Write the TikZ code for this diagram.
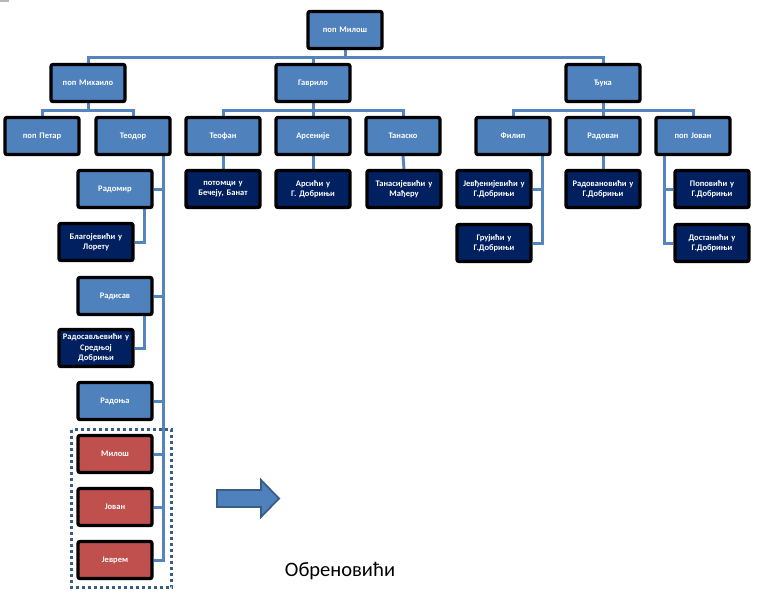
\documentclass[tikz,border=0pt]{standalone}
\usepackage{fontspec}
\setmainfont{Carlito}
\usetikzlibrary{backgrounds}
\definecolor{sablue}{RGB}{79,129,189}
\definecolor{sanavy}{RGB}{0,32,96}
\definecolor{sared}{RGB}{192,80,77}
\definecolor{saline}{RGB}{84,133,192}
\definecolor{sadark}{RGB}{56,93,138}
\tikzset{
  box/.style={rounded corners=2pt, line width=3.3pt, draw=black, minimum width=74pt,
    minimum height=37pt, inner sep=1pt, text=white, align=center, text width=72pt,
    font=\bfseries\fontsize{8.5}{10.5}\selectfont},
  bluebox/.style={box, fill=sablue},
  navybox/.style={box, fill=sanavy},
  redbox/.style={box, fill=sared},
  conn/.style={draw=saline, line width=3pt},
  frame/.style={draw=sadark, line width=3pt, dash pattern=on 3pt off 3pt},
  arrowshape/.style={fill=sablue, draw=sadark, line width=1.8pt, line join=miter},
  caption/.style={font=\fontsize{20.5}{24}\selectfont, text=black, inner sep=0pt}
}
\begin{document}
\begin{tikzpicture}[x=1pt,y=-1pt]
\useasboundingbox (0,0) rectangle (761,600);
\fill[gray!55] (0,0) rectangle (9,1.5);
% level 1
\node[bluebox] (milos) at (345,30) {поп Милош};
% level 2
\node[bluebox] (mihailo) at (88,83) {поп Михаило};
\node[bluebox] (gavrilo) at (313,83) {Гаврило};
\node[bluebox] (djuka) at (603,83) {Ђука};
% level 3
\node[bluebox] (petar) at (42,136) {поп Петар};
\node[bluebox] (teodor) at (133,136) {Теодор};
\node[bluebox] (teofan) at (223,136) {Теофан};
\node[bluebox] (arsenije) at (313,136) {Арсеније};
\node[bluebox] (tanasko) at (403,136) {Танаско};
\node[bluebox] (filip) at (513,136) {Филип};
\node[bluebox] (radovan) at (603,136) {Радован};
\node[bluebox] (popjovan) at (693,136) {поп Јован};
% level 4
\node[navybox] (potomci) at (223,189) {потомци у\\Бечеју, Банат};
\node[navybox] (arsici) at (313,189) {Арсићи у\\Г. Добрињи};
\node[navybox] (tanasij) at (404,189) {Танасијевићи у\\Мађеру};
\node[navybox] (jevdj) at (494,189) {Јевђенијевићи у\\Г.Добрињи};
\node[navybox] (grujici) at (494,243) {Грујићи у\\Г.Добрињи};
\node[navybox] (radovanov) at (603,189) {Радовановићи у\\Г.Добрињи};
\node[navybox] (popovici) at (712,189) {Поповићи у\\Г.Добрињи};
\node[navybox] (dostanici) at (712,243) {Достанићи у\\Г.Добрињи};
% Teodor column
\node[bluebox] (radomir) at (115,189) {Радомир};
\node[navybox] (blagoj) at (96,242) {Благојевићи у\\Лорету};
\node[bluebox] (radisav) at (115,296) {Радисав};
\node[navybox] (radosav) at (96,348) {Радосављевићи у\\Средњој\\Добрињи};
\node[bluebox] (radonja) at (115,401) {Радоња};
\node[redbox] (milosr) at (115,454) {Милош};
\node[redbox] (jovanr) at (115,507) {Јован};
\node[redbox] (jevrem) at (115,560) {Јеврем};
% frame around the Obrenovic branch
\draw[frame] (71.5,429.5) rectangle (171.5,587.5);
% block arrow
\path[arrowshape] (217,490) -- (261,490) -- (261,480) -- (279,498.5) -- (261,517) -- (261,507) -- (217,507) -- cycle;
\node[caption] (obren) at (340,571) {Обреновићи};
% connectors
\coordinate (b1) at (0,57);
\coordinate (b2) at (0,110);
\coordinate (tx) at (163,0);
\coordinate (rx) at (144,0);
\coordinate (fx) at (542,0);
\coordinate (jx) at (664,0);
\begin{scope}[on background layer]
\draw[conn] (milos.south) -- (milos.south |- b1);
\draw[conn] (mihailo.north) |- (djuka.north |- b1) -- (djuka.north);
\draw[conn] (gavrilo.north) -- (gavrilo.north |- b1);
\draw[conn] (mihailo.south) -- (mihailo.south |- b2);
\draw[conn] (petar.north) |- (teodor.north |- b2) -- (teodor.north);
\draw[conn] (gavrilo.south) -- (gavrilo.south |- b2);
\draw[conn] (teofan.north) |- (tanasko.north |- b2) -- (tanasko.north);
\draw[conn] (arsenije.north) -- (arsenije.north |- b2);
\draw[conn] (djuka.south) -- (djuka.south |- b2);
\draw[conn] (filip.north) |- (popjovan.north |- b2) -- (popjovan.north);
\draw[conn] (radovan.north) -- (radovan.north |- b2);
\draw[conn] (teofan.south) -- (potomci.north);
\draw[conn] (arsenije.south) -- (arsici.north);
\draw[conn] (tanasko.south) -- (tanasij.north);
\draw[conn] (radovan.south) -- (radovanov.north);
% Filip
\draw[conn] (filip.south -| fx) -- (grujici.east -| fx) -- (grujici.east);
\draw[conn] (jevdj.east) -- (jevdj.east -| fx);
% pop Jovan
\draw[conn] (popjovan.south -| jx) -- (dostanici.west -| jx) -- (dostanici.west);
\draw[conn] (popovici.west) -- (popovici.west -| jx);
% Teodor
\draw[conn] (teodor.south -| tx) -- (jevrem.east -| tx) -- (jevrem.east);
\draw[conn] (radomir.east) -- (radomir.east -| tx);
\draw[conn] (radisav.east) -- (radisav.east -| tx);
\draw[conn] (radonja.east) -- (radonja.east -| tx);
\draw[conn] (milosr.east) -- (milosr.east -| tx);
\draw[conn] (jovanr.east) -- (jovanr.east -| tx);
% Radomir, Radisav
\draw[conn] (radomir.south -| rx) -- (blagoj.east -| rx) -- (blagoj.east);
\draw[conn] (radisav.south -| rx) -- (radosav.east -| rx) -- (radosav.east);
\end{scope}
\end{tikzpicture}
\end{document}
